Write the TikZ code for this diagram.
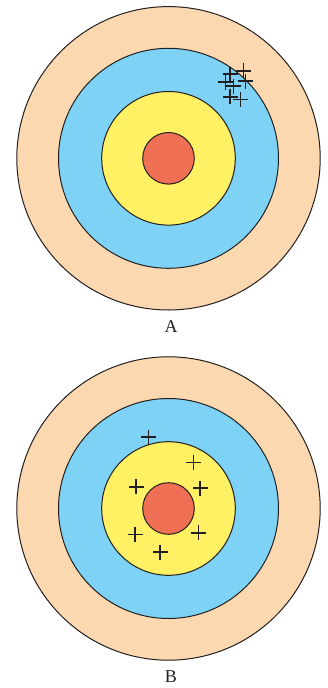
\documentclass[tikz,border=0pt]{standalone}
\usepackage{fontspec}
\setmainfont{Liberation Serif}
\definecolor{ringpeach}{RGB}{252,216,176}
\definecolor{ringblue}{RGB}{125,210,245}
\definecolor{ringyellow}{RGB}{255,240,100}
\definecolor{ringred}{RGB}{240,112,85}
\definecolor{inkc}{RGB}{35,31,32}
\begin{document}
\begin{tikzpicture}[x=1pt,y=-1pt,
  ring/.style={draw=inkc,line width=1pt},
  hit/.style={draw=inkc,line width=1.6pt},
  lbl/.style={font=\fontsize{18}{20}\selectfont,text=inkc,inner sep=0pt}]
\useasboundingbox (0,0) rectangle (328,688);
\newcommand{\target}[2]{%
  \draw[ring,fill=ringpeach] (#1,#2) circle (151.7);
  \draw[ring,fill=ringblue] (#1,#2) circle (110);
  \draw[ring,fill=ringyellow] (#1,#2) circle (66.8);
  \draw[ring,fill=ringred] (#1,#2) circle (25.8);}
\newcommand{\hitmark}[2]{%
  \draw[hit] (#1-7.5,#2) -- (#1+7.5,#2) (#1,#2-7.5) -- (#1,#2+7.5);}
% Target A
\target{168.5}{158.3}
\hitmark{230}{74}
\hitmark{243.3}{70.7}
\hitmark{245.5}{81}
\hitmark{225.5}{82}
\hitmark{233.3}{86}
\hitmark{230}{96.7}
\hitmark{240.5}{99.5}
\node[lbl] (la) at (171,327) {A};
% Target B
\target{168.5}{508.5}
\hitmark{148.3}{437}
\hitmark{193.3}{462.5}
\hitmark{136}{486.7}
\hitmark{200}{488}
\hitmark{135}{534.5}
\hitmark{198.3}{532.7}
\hitmark{160}{552.2}
\node[lbl] (lb) at (171,677) {B};
\end{tikzpicture}
\end{document}
